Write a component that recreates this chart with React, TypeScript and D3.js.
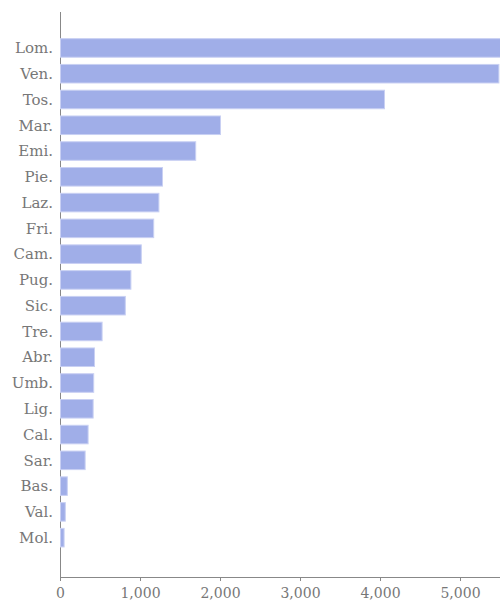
import React, { useEffect, useRef } from 'react';
import * as d3 from 'd3';

// regions (abbreviated) and their values
const regions = ['Lom.', 'Ven.', 'Tos.', 'Mar.', 'Emi.', 'Pie.', 'Laz.', 'Fri.', 'Cam.', 'Pug.',
  'Sic.', 'Tre.', 'Abr.', 'Umb.', 'Lig.', 'Cal.', 'Sar.', 'Bas.', 'Val.', 'Mol.'];
const values = [5800, 5480, 4050, 2000, 1690, 1275, 1230, 1165, 1010, 880,
  810, 520, 425, 415, 408, 345, 308, 85, 60, 45];
const xTicks = [0, 1000, 2000, 3000, 4000, 5000];

const App = () => {
  const svgRef = useRef<SVGSVGElement>(null);

  useEffect(() => {
    const svg = d3.select(svgRef.current);
    svg.selectAll('*').remove();

    const margin = { top: 12, right: 0, bottom: 24, left: 60 };
    const width = 500;
    const height = 601;
    const innerWidth = width - margin.left - margin.right;
    const innerHeight = height - margin.top - margin.bottom;

    const data = regions.map((r, i) => ({ region: r, value: values[i] }));

    const x = d3.scaleLinear().domain([0, 5500]).range([0, innerWidth]);
    const y = d3.scaleBand()
      .domain(regions)
      .range([0, innerHeight])
      .paddingInner(0.28)
      .paddingOuter(1.1)
      .align(0.47);

    const g = svg.append('g').attr('transform', `translate(${margin.left},${margin.top})`);

    // left axis line
    g.append('line')
      .attr('x1', 0.5).attr('x2', 0.5)
      .attr('y1', 0).attr('y2', innerHeight)
      .attr('stroke', '#888');

    // bottom axis
    const xAxis = g.append('g')
      .attr('transform', `translate(0,${innerHeight})`)
      .call(d3.axisBottom(x).tickValues(xTicks).tickFormat(d3.format(',')).tickSize(4).tickSizeOuter(0));
    xAxis.select('.domain').attr('stroke', '#888');
    xAxis.selectAll('.tick line').attr('stroke', '#888');
    xAxis.selectAll('.tick text')
      .attr('fill', '#777')
      .attr('dy', '1.0em')
      .style('font-family', '"DejaVu Serif", serif')
      .style('font-size', '14px');

    // bars
    g.selectAll('rect.bar')
      .data(data)
      .join('rect')
      .attr('class', 'bar')
      .attr('x', 0.5)
      .attr('y', (d) => y(d.region)!)
      .attr('width', (d) => x(d.value))
      .attr('height', y.bandwidth())
      .attr('fill', '#a0aee8')
      .attr('stroke', '#c9d0f3')
      .attr('stroke-width', 1);

    // region labels
    g.selectAll('text.label')
      .data(data)
      .join('text')
      .attr('class', 'label')
      .attr('x', -7)
      .attr('y', (d) => y(d.region)! + y.bandwidth() / 2)
      .attr('dy', '0.35em')
      .attr('text-anchor', 'end')
      .attr('fill', '#777')
      .style('font-family', '"DejaVu Serif", serif')
      .style('font-size', '15px')
      .text((d) => d.region);
  }, []);

  return (
    <svg ref={svgRef} width={500} height={601}
      style={{ position: 'absolute', left: 0, top: 0, background: '#fff' }} />
  );
};

export default App;
